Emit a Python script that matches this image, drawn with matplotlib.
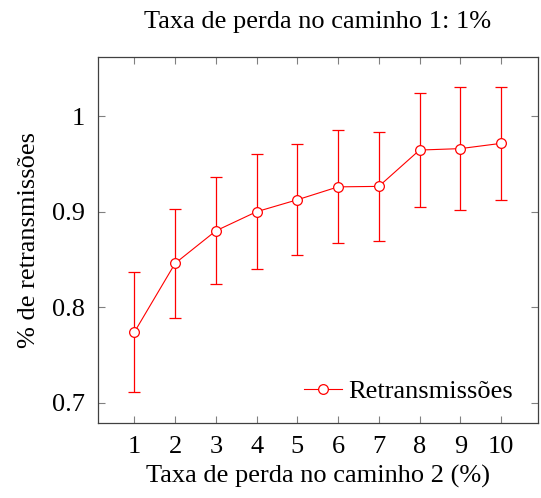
import matplotlib
matplotlib.use("Agg")
import matplotlib.pyplot as plt
from matplotlib.lines import Line2D

# Loss rate on path 2 (%) and measured retransmission share with std deviation
loss_path2 = [1, 2, 3, 4, 5, 6, 7, 8, 9, 10]
retrans = [0.774, 0.846, 0.880, 0.900, 0.9125, 0.926, 0.9265, 0.9645, 0.966, 0.9715]
retrans_err = [0.063, 0.057, 0.056, 0.060, 0.058, 0.059, 0.057, 0.060, 0.064, 0.059]
y_ticks = [0.7, 0.8, 0.9, 1.0]
y_ticklabels = ["0.7", "0.8", "0.9", "1"]

plt.rcParams["font.family"] = ["Liberation Serif", "DejaVu Serif"]

fig = plt.figure(figsize=(5.41, 4.98), dpi=100)
ax = fig.add_axes([0.1806, 0.1506, 0.9939 - 0.1806, 0.8849 - 0.1506])

red = "#ff0000"
marker_style = dict(marker="o", markersize=7, markerfacecolor="white",
                    markeredgecolor=red, markeredgewidth=0.9)
ax.errorbar(loss_path2, retrans, yerr=retrans_err, color=red, lw=0.8,
            elinewidth=0.9, capsize=4, capthick=0.9, **marker_style)

ax.set_xlim(0.1, 10.9)
ax.set_ylim(0.679, 1.0615)
ax.set_xticks(loss_path2)
ax.set_xticklabels([str(v) for v in loss_path2])
ax.set_yticks(y_ticks)
ax.set_yticklabels(y_ticklabels)

fs = 19
ax.tick_params(direction="in", top=True, right=True, length=5, width=0.8,
               color="#808080", labelsize=fs)
ax.tick_params(axis="x", pad=9)
ax.tick_params(axis="y", pad=9.5)
for s in ax.spines.values():
    s.set_color("#404040")
    s.set_linewidth(0.9)

ax.set_title("Taxa de perda no caminho 1: 1%", fontsize=fs, pad=21)
ax.set_xlabel("Taxa de perda no caminho 2 (%)", fontsize=fs, labelpad=5)
ax.set_ylabel("% de retransmissões", fontsize=fs, labelpad=8)

handle = Line2D([], [], color=red, lw=0.8, **marker_style)
ax.legend([handle], ["Retransmissões"], loc="lower right",
          bbox_to_anchor=(0.9795, 0.011), frameon=False,
          fontsize=fs, handlelength=1.45, handletextpad=0.23, borderaxespad=0.2)

fig.savefig("out.png", dpi=100)
